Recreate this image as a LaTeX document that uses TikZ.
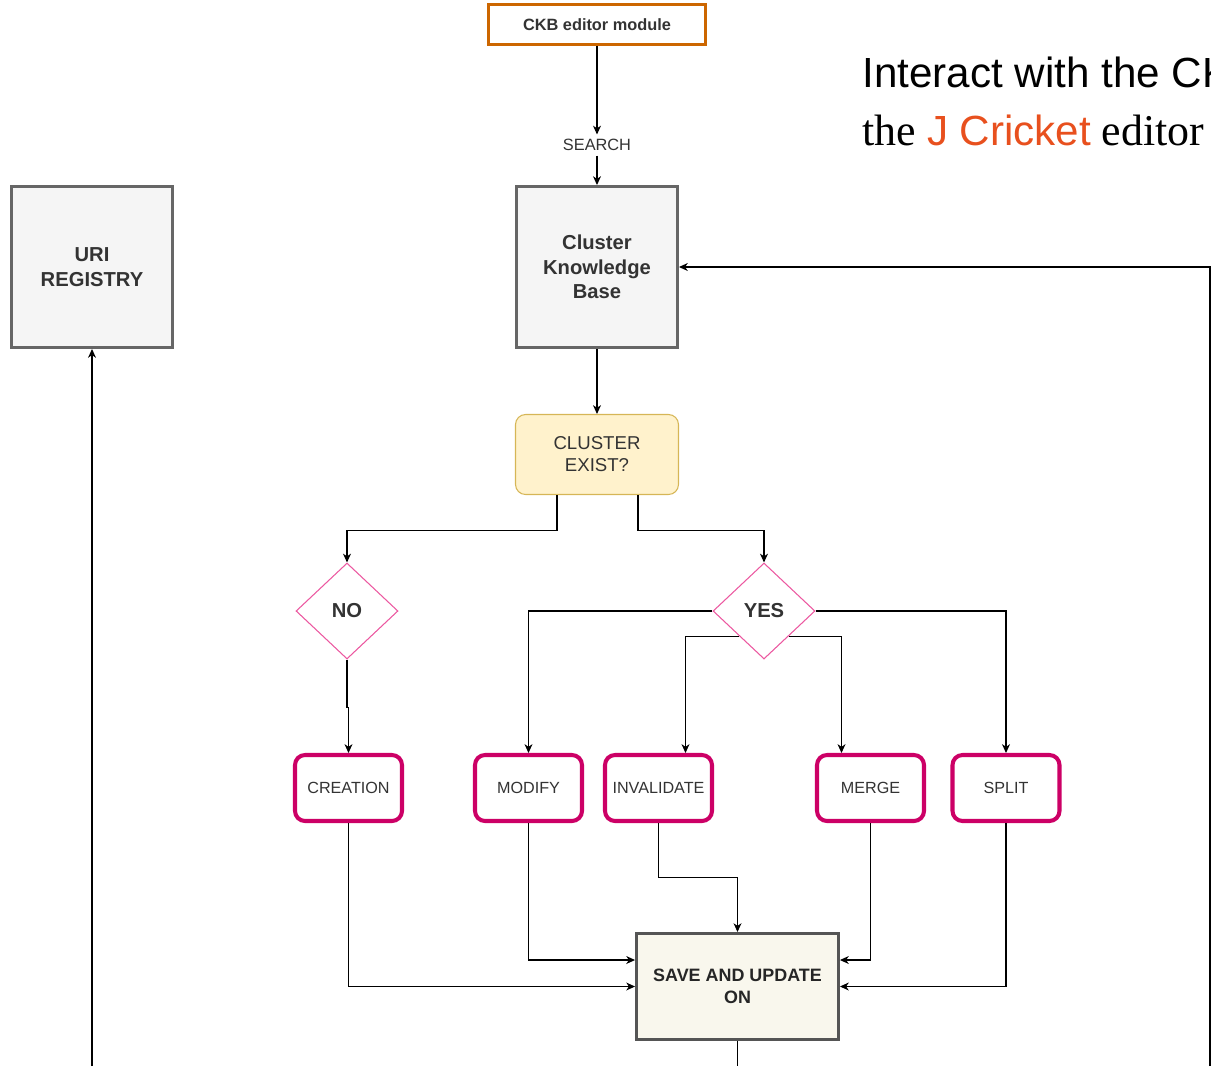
\documentclass[tikz,border=0pt]{standalone}
\usepackage{fontspec}
\setmainfont{Liberation Sans}
\newfontfamily\tms{Liberation Serif}
\usetikzlibrary{shapes,shapes.geometric,arrows.meta}
\definecolor{ckbor}{RGB}{204,102,0}
\definecolor{bxgray}{RGB}{102,102,102}
\definecolor{bxfill}{RGB}{245,245,245}
\definecolor{ylwfill}{RGB}{255,242,204}
\definecolor{ylwdraw}{RGB}{214,182,86}
\definecolor{pnk}{RGB}{236,88,160}
\definecolor{mag}{RGB}{204,0,102}
\definecolor{savfill}{RGB}{249,247,237}
\definecolor{savdraw}{RGB}{85,85,85}
\definecolor{txt}{RGB}{51,51,51}
\definecolor{jcr}{RGB}{232,80,30}
\tikzstyle{bx}=[rectangle,draw=bxgray,fill=bxfill,line width=1.7pt,minimum width=3.22cm,minimum height=3.22cm,align=center,text=txt,font=\fontsize{11.5}{14}\selectfont\bfseries]
\tikzstyle{cnd}=[rectangle,rounded corners=0.2cm,draw=ylwdraw,fill=ylwfill,line width=.6pt,minimum width=3.26cm,minimum height=1.6cm,align=center,text=txt,font=\fontsize{10.6}{12.5}\selectfont]
\tikzstyle{dia}=[diamond,aspect=1,inner sep=0pt,draw=pnk,fill=white,line width=.6pt,minimum width=2.04cm,minimum height=1.92cm,text=txt,font=\fontsize{11.5}{14}\selectfont\bfseries]
\tikzstyle{act}=[rectangle,rounded corners=0.2cm,draw=mag,fill=white,line width=2.3pt,minimum width=2.14cm,minimum height=1.32cm,inner sep=1pt,text=txt,font=\fontsize{9.2}{11}\selectfont]
\tikzstyle{ln}=[line width=.6pt,-{Stealth[length=5pt,width=4.5pt,inset=1.5pt]}]

\begin{document}
\begin{tikzpicture}[x=0.02cm,y=-0.02cm]
\useasboundingbox (0,0) rectangle (1211,1066);
\clip (0,0) rectangle (1211,1066);
\node[rectangle,draw=ckbor,fill=white,line width=1.7pt,minimum width=4.34cm,minimum height=0.8cm,text=txt,font=\fontsize{9.3}{11}\selectfont\bfseries] (ckbe) at (597,24.5) {CKB editor module};
\node[inner sep=2.5pt,text=txt,font=\fontsize{9.3}{11}\selectfont] (srch) at (597,145) {SEARCH};
\node[bx] (ckb) at (597,267) {Cluster\\Knowledge\\Base};
\node[bx] (uri) at (92,267) {URI\\REGISTRY};
\node[cnd] (cex) at (597,454.5) {CLUSTER\\EXIST?};
\node[dia] (no) at (347,611) {NO};
\node[dia] (yes) at (764,611) {YES};
\node[act] (cre) at (348.5,788) {CREATION};
\node[act] (mod) at (528.5,788) {MODIFY};
\node[act] (inv) at (658.5,788) {INVALIDATE};
\node[act] (mrg) at (870.5,788) {MERGE};
\node[act] (spl) at (1006,788) {SPLIT};
\node[rectangle,draw=savdraw,fill=savfill,line width=1.7pt,minimum width=4.04cm,minimum height=2.12cm,align=center,text=black!85,font=\fontsize{10.2}{12.5}\selectfont\bfseries] (sav) at (737.5,986.5) {SAVE AND UPDATE\\ON};
\node[anchor=base west,inner sep=0pt,font=\fontsize{24}{28}\selectfont] (ttl1) at (862,87) {Interact with the CK};
\node[anchor=base west,inner sep=0pt] (ttl2) at (862,145) {{\tms\fontsize{25}{30}\selectfont the }{\color{jcr}\fontsize{24}{28}\selectfont J Cricket}{\tms\fontsize{25}{30}\selectfont\ editor (}};
\coordinate (urib) at (92,1066);
\coordinate (rgtb) at (1210,1066);
\coordinate (savb) at (737.5,1066);
\draw[ln] (ckbe) -- (srch); \draw[ln] (srch) -- (ckb); \draw[ln] (ckb) -- (cex);
\draw[ln] (urib) -- (uri.south);
\draw[ln] (rgtb) |- (ckb.east);
\draw[ln] (cex.south) ++(-40,0) -- ++(0,35) -| (no.north);
\draw[ln] (cex.south) ++(41,0) -- ++(0,35) -| (yes.north);
\draw[ln] (no.south) -- ++(0,48) -| (cre.north);
\draw[ln] (yes.west) -| (mod.north);
\draw[ln] (yes.226) -| ([xshift=0.54cm]inv.north);
\draw[ln] (yes.-46) -| ([xshift=-0.58cm]mrg.north);
\draw[ln] (yes.east) -| (spl.north);
\draw[ln] (cre.south) |- (sav.west);
\draw[ln] (mod.south) |- ([yshift=0.53cm]sav.west);
\draw[ln] (inv.south) -- ++(0,54) -| (sav.north);
\draw[ln] (mrg.south) |- ([yshift=0.53cm]sav.east);
\draw[ln] (spl.south) |- (sav.east);
\draw[line width=.6pt] (sav.south) -- (savb);
\end{tikzpicture}
\end{document}
